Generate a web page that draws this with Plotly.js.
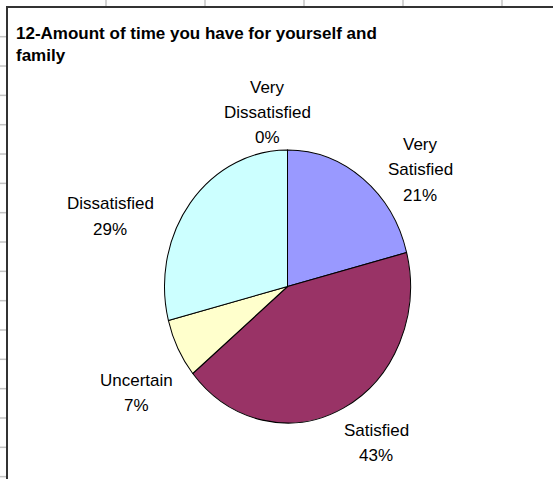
<!DOCTYPE html>
<html>
<head>
<meta charset="utf-8">
<script src="https://cdn.plot.ly/plotly-3.0.1.min.js"></script>
<style>
  html, body { margin: 0; padding: 0; background: #ffffff; }
  #chart { width: 553px; height: 479px; }
</style>
</head>
<body>
<div id="chart"></div>
<script>
// ---- data ----
const chartTitle = '12-Amount of time you have for yourself and<br>family';
const categories = ['Very Satisfied', 'Satisfied', 'Uncertain', 'Dissatisfied', 'Very Dissatisfied'];
const labelLines = [['Very', 'Satisfied'], ['Satisfied'], ['Uncertain'], ['Dissatisfied'], ['Very', 'Dissatisfied']];
const values = [21, 43, 7, 29, 0];
const sliceColors = ['#9999FF', '#993366', '#FFFFCC', '#CCFFFF', '#FFFF99'];

// ---- layout helpers (pixel -> paper) ----
const W = 553, H = 479;
const px = x => x / W;
const py = y => 1 - y / H;

// label centre positions (pixels) and line spacing: styling only
const labelCenters = [[420, 144], [376, 430], [136, 380], [110, 204], [267, 87]];
const lineGap = 25.5;

const total = values.reduce((a, b) => a + b, 0);
const annotations = [];
categories.forEach((c, i) => {
  const lines = labelLines[i].concat([Math.round(values[i] / total * 100) + '%']);
  lines.forEach((t, j) => {
    annotations.push({
      text: t, showarrow: false, xref: 'paper', yref: 'paper',
      x: px(labelCenters[i][0]), y: py(labelCenters[i][1] + j * lineGap),
      xanchor: 'center', yanchor: 'middle',
      font: { family: 'Liberation Sans, Arial, sans-serif', size: 17, color: '#000000' }
    });
  });
});

// spreadsheet background gridlines + chart frame
const shapes = [];
[106, 205, 304, 403, 502].forEach(x => shapes.push({
  type: 'line', xref: 'paper', yref: 'paper', x0: px(x), x1: px(x), y0: py(0), y1: py(6),
  line: { color: '#c4c4c4', width: 1.5 }
}));
for (let y = 36.7; y < H; y += 29.33) shapes.push({
  type: 'line', xref: 'paper', yref: 'paper', x0: px(0), x1: px(6), y0: py(y), y1: py(y),
  line: { color: '#c4c4c4', width: 1.5 }
});
shapes.push({ type: 'line', xref: 'paper', yref: 'paper', x0: px(7), x1: px(7), y0: py(6), y1: py(H + 2),
  line: { color: '#333333', width: 2 } });
shapes.push({ type: 'line', xref: 'paper', yref: 'paper', x0: px(6), x1: px(W + 2), y0: py(7), y1: py(7),
  line: { color: '#333333', width: 2 } });

// pie geometry: Excel draws it as a slightly tall ellipse
const cx = 287.5, cy = 286.5, rx = 123, ry = 136.5;
const trace = {
  type: 'pie',
  labels: categories,
  values: values,
  sort: false,
  direction: 'clockwise',
  rotation: 0,
  marker: { colors: sliceColors, line: { color: '#000000', width: 1 } },
  textinfo: 'none',
  hoverinfo: 'label+percent',
  showlegend: false,
  domain: { x: [px(cx - rx), px(cx + rx)], y: [py(cy + rx), py(cy - rx)] }
};

const layout = {
  width: W, height: H,
  margin: { l: 0, r: 0, t: 0, b: 0, pad: 0 },
  paper_bgcolor: '#ffffff',
  showlegend: false,
  title: {
    text: chartTitle, xref: 'paper', yref: 'paper',
    x: px(16), xanchor: 'left', y: py(39), yanchor: 'top',
    font: { family: 'Liberation Sans, Arial, sans-serif', size: 17, weight: 'bold', color: '#000000' }
  },
  annotations: annotations,
  shapes: shapes
};

Plotly.newPlot('chart', [trace], layout, { displayModeBar: false, staticPlot: true }).then(gd => {
  const pl = gd.querySelector('.pielayer');
  if (pl) {
    const k = ry / rx;
    pl.setAttribute('transform', `translate(0,${cy}) scale(1,${k}) translate(0,${-cy})`);
  }
});
</script>
</body>
</html>
